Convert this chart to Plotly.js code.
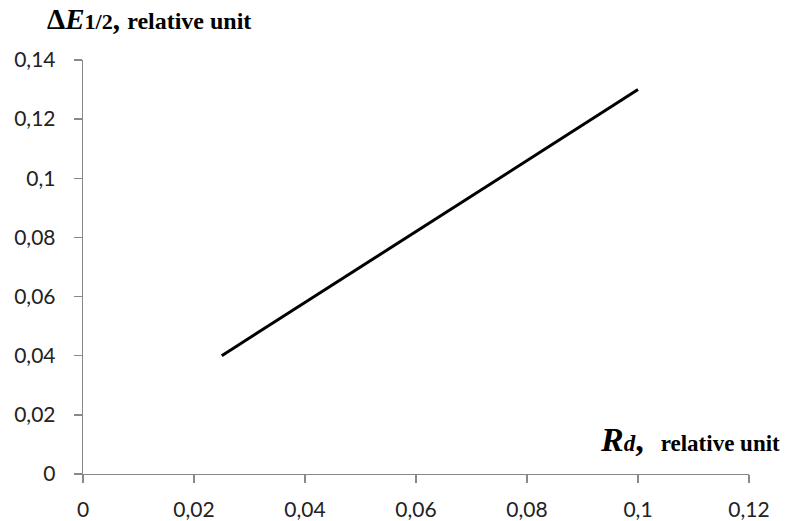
<!DOCTYPE html>
<html>
<head>
<meta charset="utf-8">
<script src="https://cdn.plot.ly/plotly-3.0.1.min.js"></script>
<style>html,body{margin:0;padding:0;background:#fff;}#chart{width:785px;height:521px;}</style>
</head>
<body>
<div id="chart"></div>
<script>
const rd = [0.025, 0.05, 0.075, 0.1];
const dE = [0.04, 0.07, 0.10, 0.13];
const xTicks = [0, 0.02, 0.04, 0.06, 0.08, 0.1, 0.12];
const xTickLabels = ['0', '0,02', '0,04', '0,06', '0,08', '0,1', '0,12'];
const yTicks = [0, 0.02, 0.04, 0.06, 0.08, 0.1, 0.12, 0.14];
const yTickLabels = ['0', '0,02', '0,04', '0,06', '0,08', '0,1', '0,12', '0,14'];

const tickFont = {family: 'Lato, "Open Sans", sans-serif', size: 21, color: '#222'};
const axisCommon = {
  showgrid: false, zeroline: false, showline: true, linecolor: '#888', linewidth: 1.3,
  ticks: 'outside', ticklen: 8, tickcolor: '#888', tickwidth: 1.3,
  tickfont: tickFont, tickmode: 'array', fixedrange: true
};

const layout = {
  width: 785, height: 521,
  margin: {l: 83, r: 36, t: 60, b: 47},
  paper_bgcolor: '#fff', plot_bgcolor: '#fff',
  showlegend: false,
  xaxis: Object.assign({}, axisCommon, {range: [0, 0.12], tickvals: xTicks, ticktext: xTickLabels, ticklabelstandoff: 8}),
  yaxis: Object.assign({}, axisCommon, {range: [0, 0.14], tickvals: yTicks, ticktext: yTickLabels, ticklabelstandoff: 14}),
  annotations: [
    {xref: 'paper', yref: 'paper', x: -0.057, y: 1.098, xanchor: 'left', yanchor: 'middle', showarrow: false,
     text: '<b>Δ<i>E</i><span style="font-size:22px">1/2</span>, <span style="font-size:24px">relative unit</span></b>',
     font: {family: '"Liberation Serif", "Times New Roman", serif', size: 29, color: '#000'}},
    {xref: 'paper', yref: 'paper', x: 1.050, y: 0.084, xanchor: 'right', yanchor: 'middle', showarrow: false,
     text: '<b><i>R</i><span style="font-size:23px"><i>d</i></span>,  <span style="font-size:23px">relative unit</span></b>',
     font: {family: '"Liberation Serif", "Times New Roman", serif', size: 34, color: '#000'}}
  ]
};

const data = [{x: rd, y: dE, type: 'scatter', mode: 'lines', line: {color: '#000', width: 3}, hoverinfo: 'skip'}];
Plotly.newPlot('chart', data, layout, {displayModeBar: false, staticPlot: true});
</script>
</body>
</html>
